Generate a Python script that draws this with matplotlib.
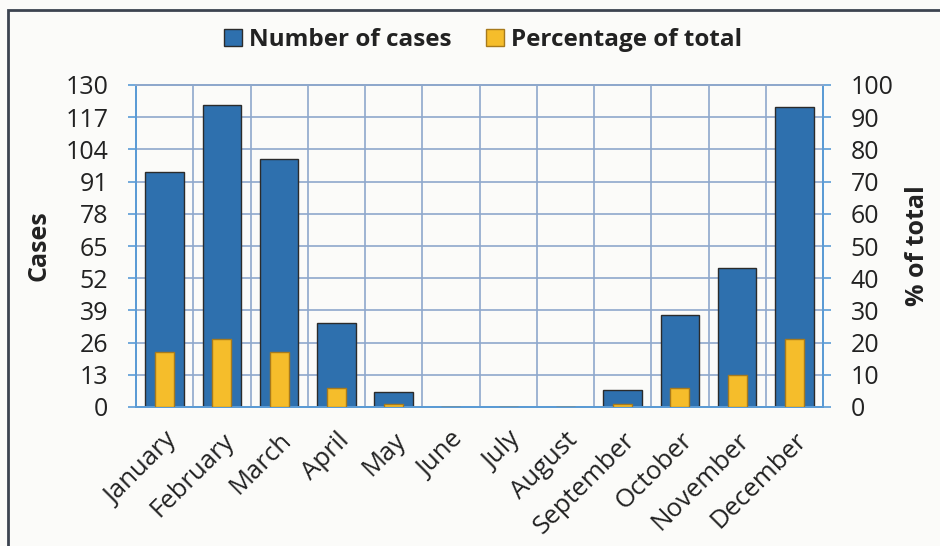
import numpy as np
import matplotlib
matplotlib.use('Agg')
import matplotlib.pyplot as plt
from matplotlib.patches import Patch, Rectangle

months = ['January', 'February', 'March', 'April', 'May', 'June', 'July',
          'August', 'September', 'October', 'November', 'December']
cases = [95, 122, 100, 34, 6, 0, 0, 0, 7, 37, 56, 121]
pct_total = [17, 21, 17, 6, 1, 0, 0, 0, 1, 6, 10, 21]
case_ticks = list(range(0, 131, 13))
pct_ticks = list(range(0, 101, 10))

plt.rcParams['font.family'] = ['Open Sans', 'DejaVu Sans']

BLUE = '#2e70ae'
YELLOW = '#f5bd2b'
GRID = '#8ea8cc'
SPINE = '#5b9bd5'
BG = '#fbfbf9'
TXT = '#222222'

fig = plt.figure(figsize=(9.4, 5.46), dpi=100, facecolor=BG)
W, H = 940, 546
ax = fig.add_axes([136 / W, (H - 407) / H, (823 - 136) / W, (407 - 85) / H])
ax.set_facecolor(BG)
ax2 = ax.twinx()
ax2.patch.set_visible(False)

x = np.arange(len(months))
ax.bar(x, cases, width=0.67, color=BLUE, edgecolor='#2b2b2b', linewidth=1, zorder=3)
ax2.bar(x, pct_total, width=0.33, color=YELLOW, edgecolor='#a77a1c', linewidth=1, zorder=3)

ax.set_xlim(-0.5, len(months) - 0.5)
ax.set_ylim(0, 130)
ax2.set_ylim(0, 100)
ax.set_yticks(case_ticks)
ax2.set_yticks(pct_ticks)

# grid: horizontal at ticks, vertical between categories
ax.set_xticks(x)
ax.set_xticks(np.arange(0.5, len(months) - 1, 1), minor=True)
ax.grid(True, which='major', axis='y', color=GRID, linewidth=1.2, zorder=0)
ax.grid(True, which='minor', axis='x', color=GRID, linewidth=1.2, zorder=0)
ax.set_axisbelow(True)

ax.set_xticklabels(months, rotation=45, ha='right', rotation_mode='anchor', fontsize=18.5, color=TXT)
ax.tick_params(axis='x', which='both', length=0, pad=15)
ax.tick_params(axis='y', length=6, width=1.2, color=SPINE, labelsize=18, labelcolor=TXT, pad=14)
ax2.tick_params(axis='y', length=6, width=1.2, color=SPINE, labelsize=18, labelcolor=TXT, pad=14)

for a in (ax, ax2):
    for s in a.spines.values():
        s.set_color(SPINE)
        s.set_linewidth(1.4)
    a.spines['top'].set_color(GRID)

ax.set_ylabel('Cases', fontsize=18, fontweight='bold', labelpad=10, color=TXT)
ax2.set_ylabel('% of total', fontsize=18, fontweight='bold', labelpad=8, color=TXT)

handles = [Patch(facecolor=BLUE, edgecolor='#2b2b2b', label='Number of cases'),
           Patch(facecolor=YELLOW, edgecolor='#a77a1c', label='Percentage of total')]
fig.legend(handles=handles, loc='center', bbox_to_anchor=(0.514, 1 - 40 / H), ncol=2,
           frameon=False, prop={'weight': 'bold', 'size': 17.5}, handlelength=0.75,
           handleheight=0.75, handletextpad=0.3, columnspacing=1.4, labelcolor=TXT)

# outer frame
fig.add_artist(Rectangle((8 / W, -0.05), 1.2, 1 - 10 / H + 0.05, transform=fig.transFigure,
                         fill=False, edgecolor='#3c4450', linewidth=2))

fig.savefig('out.png', dpi=100, facecolor=BG)
